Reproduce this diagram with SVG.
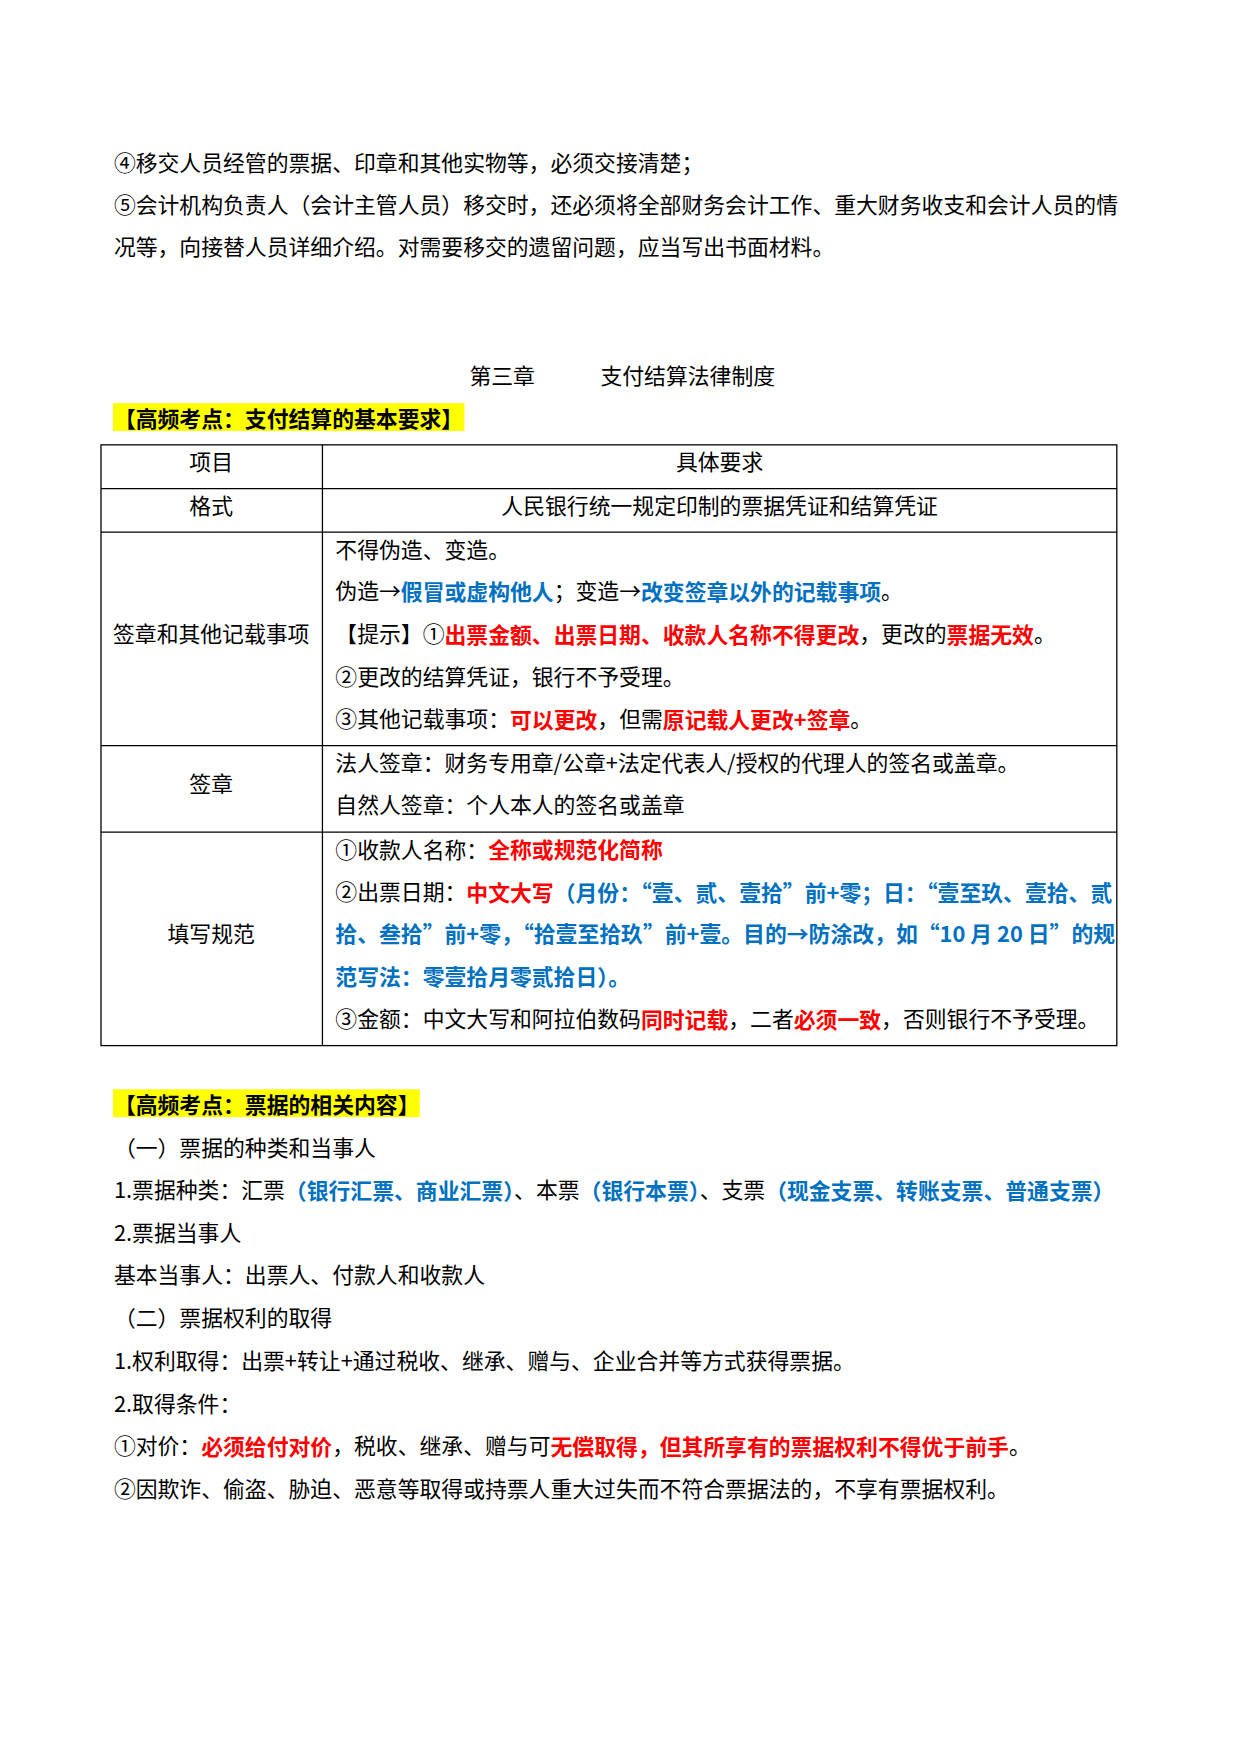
<svg xmlns="http://www.w3.org/2000/svg" width="1240" height="1754" viewBox="0 0 1240 1754">
<style>
text{font-family:"Noto Sans CJK SC","Liberation Sans",sans-serif;font-size:22px;fill:#000;dominant-baseline:central}
.r{fill:#ff0000;font-weight:bold}
.b{fill:#0070c0;font-weight:bold}
.h{font-weight:bold}
.c{text-anchor:middle}
line{stroke:#000;stroke-width:1.3}
</style>
<rect width="1240" height="1754" fill="#fff"/>
<g transform="translate(0.7,-3) scale(0.993)">
<g id="intro">
<text x="114" y="166">④移交人员经管的票据、印章和其他实物等，必须交接清楚；</text>
<text x="114" y="208">⑤会计机构负责人（会计主管人员）移交时，还必须将全部财务会计工作、重大财务收支和会计人员的情</text>
<text x="114" y="250">况等，向接替人员详细介绍。对需要移交的遗留问题，应当写出书面材料。</text>
<text x="472" y="380">第三章</text>
<text x="604" y="380">支付结算法律制度</text>
</g>
<g id="heading1">
<rect x="113" y="409" width="354" height="28" fill="#ffff00"/>
<text x="114" y="423" class="h">【高频考点：支付结算的基本要求】</text>
</g>
<g id="table">
<rect x="101" y="451" width="1023" height="605" fill="none" stroke="#000" stroke-width="1.3"/>
<line x1="324" y1="451" x2="324" y2="1056"/>
<line x1="101" y1="495" x2="1124" y2="495"/>
<line x1="101" y1="539" x2="1124" y2="539"/>
<line x1="101" y1="754" x2="1124" y2="754"/>
<line x1="101" y1="841" x2="1124" y2="841"/>
<text x="212" y="467" class="c">项目</text>
<text x="724" y="467" class="c">具体要求</text>
<text x="212" y="511" class="c">格式</text>
<text x="724" y="511" class="c">人民银行统一规定印制的票据凭证和结算凭证</text>
<text x="212" y="640" class="c">签章和其他记载事项</text>
<text x="337" y="555">不得伪造、变造。</text>
<text x="337" y="597">伪造→<tspan class="b">假冒或虚构他人</tspan>；变造→<tspan class="b">改变签章以外的记载事项</tspan>。</text>
<text x="337" y="640">【提示】①<tspan class="r">出票金额、出票日期、收款人名称不得更改</tspan>，更改的<tspan class="r">票据无效</tspan>。</text>
<text x="337" y="683">②更改的结算凭证，银行不予受理。</text>
<text x="337" y="726">③其他记载事项：<tspan class="r">可以更改</tspan>，但需<tspan class="r">原记载人更改+签章</tspan>。</text>
<text x="212" y="791" class="c">签章</text>
<text x="337" y="770">法人签章：财务专用章/公章+法定代表人/授权的代理人的签名或盖章。</text>
<text x="337" y="812">自然人签章：个人本人的签名或盖章</text>
<text x="212" y="942" class="c">填写规范</text>
<text x="337" y="857">①收款人名称：<tspan class="r">全称或规范化简称</tspan></text>
<text x="337" y="900">②出票日期：<tspan class="r">中文大写</tspan><tspan class="b">（月份：“壹、贰、壹拾”前+零；日：“壹至玖、壹拾、贰</tspan></text>
<text x="337" y="942" class="b">拾、叁拾”前+零，“拾壹至拾玖”前+壹。目的→防涂改，如“10 月 20 日”的规</text>
<text x="337" y="985" class="b">范写法：零壹拾月零贰拾日）。</text>
<text x="337" y="1028">③金额：中文大写和阿拉伯数码<tspan class="r">同时记载</tspan>，二者<tspan class="r">必须一致</tspan>，否则银行不予受理。</text>
</g>
<g id="heading2">
<rect x="113" y="1100" width="309" height="28" fill="#ffff00"/>
<text x="114" y="1114" class="h">【高频考点：票据的相关内容】</text>
</g>
<g id="section2">
<text x="114" y="1158">（一）票据的种类和当事人</text>
<text x="114" y="1200">1.票据种类：汇票<tspan class="b">（银行汇票、商业汇票）</tspan>、本票<tspan class="b">（银行本票）</tspan>、支票<tspan class="b">（现金支票、转账支票、普通支票）</tspan></text>
<text x="114" y="1243">2.票据当事人</text>
<text x="114" y="1286">基本当事人：出票人、付款人和收款人</text>
<text x="114" y="1329">（二）票据权利的取得</text>
<text x="114" y="1372">1.权利取得：出票+转让+通过税收、继承、赠与、企业合并等方式获得票据。</text>
<text x="114" y="1415">2.取得条件：</text>
<text x="114" y="1458">①对价：<tspan class="r">必须给付对价</tspan>，税收、继承、赠与可<tspan class="r">无偿取得，但其所享有的票据权利不得优于前手</tspan>。</text>
<text x="114" y="1501">②因欺诈、偷盗、胁迫、恶意等取得或持票人重大过失而不符合票据法的，不享有票据权利。</text>
</g>
</g>
</svg>
